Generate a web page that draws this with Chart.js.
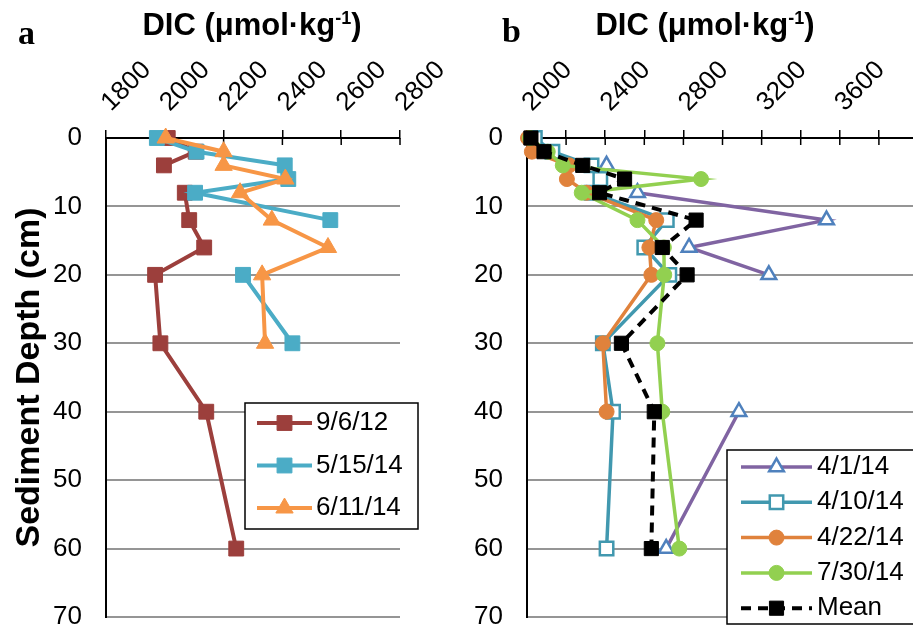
<!DOCTYPE html>
<html>
<head>
<meta charset="utf-8">
<script src="https://cdn.jsdelivr.net/npm/chart.js@4.4.0/dist/chart.umd.min.js"></script>
<style>
  html, body { margin: 0; padding: 0; background: #fff; }
  #wrap { position: relative; width: 913px; height: 634px; overflow: hidden; }
  canvas { position: absolute; top: 0; }
  .panel { position: absolute; font: bold 34px 'Liberation Serif', 'Times New Roman', serif; line-height: 34px; }
  .dic { position: absolute; width: 320px; text-align: center; font: bold 31px 'Liberation Sans', Arial, sans-serif; line-height: 31px; }
  .dic sup { font-size: 18px; vertical-align: 11px; line-height: 0; }
</style>
</head>
<body>
<div id="wrap">
  <canvas id="chartA" width="460" height="634" style="left:0"></canvas>
  <canvas id="chartB" width="470" height="634" style="left:460px"></canvas>
  <div class="panel" style="left:18px;top:16px">a</div>
  <div class="panel" style="left:502px;top:14px">b</div>
  <div class="dic" style="left:92px;top:9px">DIC (μmol·kg<sup>-1</sup>)</div>
  <div class="dic" style="left:545px;top:9px">DIC (μmol·kg<sup>-1</sup>)</div>
</div>
<script>
// sampling depths (cm) and DIC (umol/kg) per core, null = no sample
const depthsA = [0, 2, 4, 6, 8, 12, 16, 20, 30, 40, 60];
const dic_090612 = [2010, 2105, 1997, null, 2068, 2083, 2134, 1967, 1985, 2141, 2243];
const dic_051514 = [1973, 2108, 2408, 2420, 2103, 2563, null, 2266, 2434, null, null];
const dic_061114 = [2003, 2200, 2200, 2410, 2256, 2364, 2555, 2331, 2341, null, null];

const depthsB = [0, 2, 4, 6, 8, 12, 16, 20, 30, 40, 60];
const dic_040114 = [null, null, 2407, null, 2565, 3532, 2829, 3237, null, 3084, 2712];
const dic_041014 = [2040, 2130, 2330, 2375, 2330, 2715, 2600, 2728, 2388, 2440, 2407];
const dic_042214 = [2005, 2025, 2215, 2204, 2305, 2661, 2626, 2636, 2388, 2407, null];
const dic_073014 = [2015, 2106, 2183, 2890, 2280, 2565, 2700, 2702, 2667, 2692, 2779];
const dic_mean = [2020, 2087, 2285, 2499, 2371, 2865, 2692, 2819, 2483, 2651, 2636];

// axis ranges
const depthRange = [0, 70];
const dicRangeA = [1800, 2800];
const dicRangeB = [2000, 4000];

Chart.defaults.font.family = "'Liberation Sans', Arial, sans-serif";
Chart.defaults.color = '#000';

function toPoints(vals, depths) {
  return depths.map((d, i) => ({ x: vals[i], y: d }));
}

function markerPath(ctx, style, r, x, y) {
  ctx.beginPath();
  if (style === 'rect') {
    const s = r * Math.SQRT1_2;
    ctx.rect(x - s, y - s, 2 * s, 2 * s);
  } else if (style === 'triangle') {
    ctx.moveTo(x, y - r);
    ctx.lineTo(x + r * Math.sin(Math.PI * 2 / 3), y + r / 2);
    ctx.lineTo(x - r * Math.sin(Math.PI * 2 / 3), y + r / 2);
    ctx.closePath();
  } else {
    ctx.arc(x, y, r, 0, Math.PI * 2);
  }
}

// short tick marks hanging below the top axis line
const crossTicks = {
  id: 'crossTicks',
  beforeDatasetsDraw(chart) {
    const sx = chart.scales.x, top = chart.chartArea.top, ctx = chart.ctx;
    ctx.save();
    ctx.strokeStyle = '#000';
    ctx.lineWidth = 1.5;
    sx.ticks.forEach(t => {
      const px = sx.getPixelForValue(t.value);
      ctx.beginPath();
      ctx.moveTo(px, top);
      ctx.lineTo(px, top + 7);
      ctx.stroke();
    });
    ctx.restore();
  }
};

// boxed legend with line + marker samples
const boxLegend = {
  id: 'boxLegend',
  afterDraw(chart, args, o) {
    const ctx = chart.ctx;
    ctx.save();
    ctx.fillStyle = '#fff';
    ctx.fillRect(o.x, o.y, o.w, o.h);
    ctx.strokeStyle = '#000';
    ctx.lineWidth = 1.5;
    ctx.strokeRect(o.x, o.y, o.w, o.h);
    chart.data.datasets.forEach((ds, i) => {
      const cy = o.y + o.first + i * o.row;
      const x0 = o.x + o.lineStart, x1 = x0 + o.lineLen;
      ctx.beginPath();
      ctx.setLineDash(ds.borderDash || []);
      ctx.strokeStyle = ds.borderColor;
      ctx.lineWidth = ds.borderWidth;
      ctx.moveTo(x0, cy);
      ctx.lineTo(x1, cy);
      ctx.stroke();
      ctx.setLineDash([]);
      markerPath(ctx, ds.pointStyle, ds.pointRadius, (x0 + x1) / 2, cy);
      ctx.fillStyle = ds.pointBackgroundColor;
      ctx.fill();
      ctx.strokeStyle = ds.pointBorderColor;
      ctx.lineWidth = ds.pointBorderWidth;
      ctx.stroke();
      ctx.fillStyle = '#000';
      ctx.font = "26px 'Liberation Sans', Arial, sans-serif";
      ctx.textBaseline = 'middle';
      ctx.fillText(ds.label, x1 + o.gap, cy);
    });
    ctx.restore();
  }
};

function series(label, vals, depths, color, style, radius, extra) {
  return Object.assign({
    label: label,
    data: toPoints(vals, depths),
    borderColor: color,
    backgroundColor: color,
    pointBackgroundColor: color,
    pointBorderColor: color,
    pointBorderWidth: 1,
    pointStyle: style,
    pointRadius: radius,
    borderWidth: 4,
    tension: 0,
    clip: false
  }, extra || {});
}

function makeChart(id, datasets, xRange, labelEvery, yTitle, yWidth, padRight, legendBox) {
  return new Chart(document.getElementById(id), {
    type: 'line',
    data: { datasets: datasets },
    options: {
      responsive: false,
      animation: false,
      events: [],
      indexAxis: 'y',
      layout: { padding: { left: 0, top: 0, right: padRight, bottom: 17 } },
      scales: {
        x: {
          type: 'linear',
          position: 'top',
          min: xRange[0],
          max: xRange[1],
          ticks: {
            stepSize: 200,
            autoSkip: false,
            minRotation: 45,
            maxRotation: 45,
            padding: 12,
            labelOffset: 22,
            font: { size: 26 },
            callback: v => (v % labelEvery === 0 && v <= 3600) ? String(v) : ''
          },
          grid: { drawOnChartArea: false, drawTicks: true, tickLength: 8, color: '#000', lineWidth: 1.5 },
          border: { color: '#000', width: 2 },
          afterFit(s) { s.height = 138; s.paddingLeft = 0; s.paddingRight = 0; }
        },
        y: {
          type: 'linear',
          min: depthRange[0],
          max: depthRange[1],
          reverse: true,
          ticks: { stepSize: 10, padding: 24, font: { size: 26 } },
          grid: {
            drawTicks: false,
            lineWidth: 2,
            color: c => (c.tick && c.tick.value === 0) ? 'rgba(0,0,0,0)' : '#959595'
          },
          border: { color: '#000', width: 2 },
          title: {
            display: !!yTitle,
            text: yTitle || '',
            font: { size: 34, weight: 'bold' },
            padding: { top: 9, bottom: 0 }
          },
          afterFit(s) { s.width = yWidth; s.paddingTop = 0; s.paddingBottom = 0; }
        }
      },
      plugins: {
        legend: { display: false },
        tooltip: { enabled: false },
        boxLegend: legendBox
      }
    },
    plugins: [crossTicks, boxLegend]
  });
}

// panel a
makeChart('chartA', [
  series('9/6/12', dic_090612, depthsA, '#9c3f3c', 'rect', 10.5, { order: 2 }),
  series('5/15/14', dic_051514, depthsA, '#4bacc6', 'rect', 10.5, { order: 1 }),
  series('6/11/14', dic_061114, depthsA, '#f79646', 'triangle', 10, { order: 0 })
], dicRangeA, 200, 'Sediment Depth (cm)', 106, 60,
  { x: 245, y: 403, w: 173, h: 126, first: 20, row: 42.5, lineStart: 12, lineLen: 55, gap: 4 });

// panel b
makeChart('chartB', [
  series('4/1/14', dic_040114, depthsB, '#8064a2', 'triangle', 8.5,
    { order: 4, borderWidth: 3.5, pointBackgroundColor: '#fff', pointBorderColor: '#4f81bd', pointBorderWidth: 2.5 }),
  series('4/10/14', dic_041014, depthsB, '#4198af', 'rect', 9.5,
    { order: 3, borderWidth: 3.5, pointBackgroundColor: '#fff', pointBorderWidth: 2.5 }),
  series('4/22/14', dic_042214, depthsB, '#e0823c', 'circle', 7.5, { order: 2, borderWidth: 3.5 }),
  series('7/30/14', dic_073014, depthsB, '#92d050', 'circle', 7.5, { order: 1, borderWidth: 3.5 }),
  series('Mean', dic_mean, depthsB, '#000', 'rect', 10, { order: 0, borderWidth: 4, borderDash: [10, 7] })
], dicRangeB, 400, '', 67, 10,
  { x: 267, y: 450, w: 192, h: 174, first: 17, row: 35.3, lineStart: 14, lineLen: 71, gap: 5 });
</script>
</body>
</html>
